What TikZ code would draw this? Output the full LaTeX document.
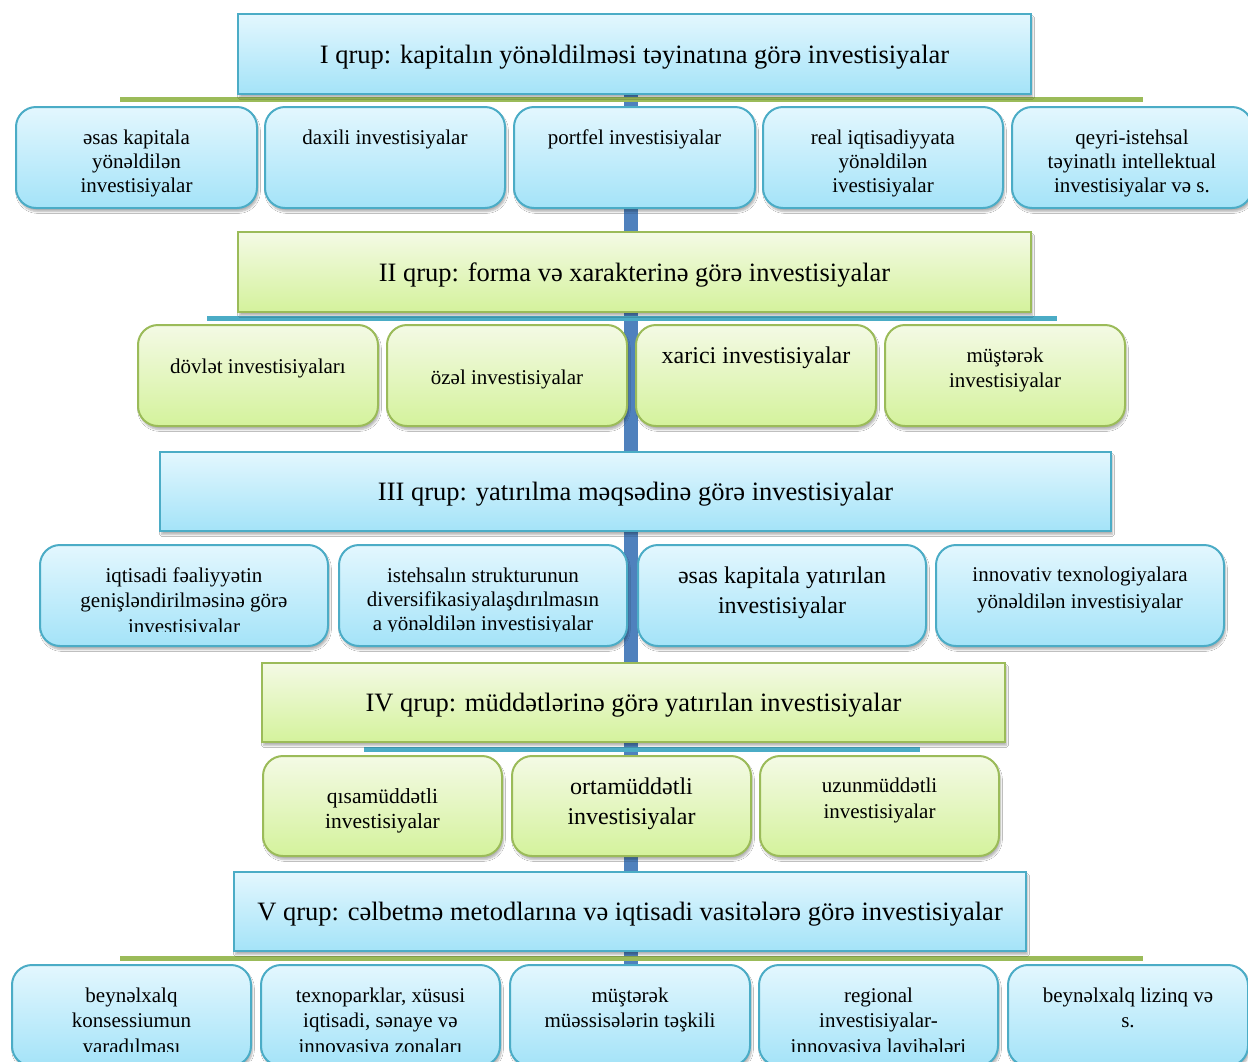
\documentclass[tikz,border=0pt]{standalone}
\usepackage{fontspec}
\setmainfont{Liberation Serif}
\usetikzlibrary{shadows,shadows.blur}

\definecolor{spineblue}{HTML}{4F81BD}
\definecolor{barblue}{HTML}{4BACC6}
\definecolor{bargreen}{HTML}{9BBB59}
\definecolor{bluetop}{HTML}{E3F7FE}
\definecolor{bluebot}{HTML}{A4E3F8}
\definecolor{greentop}{HTML}{F4FAE5}
\definecolor{greenbot}{HTML}{D4F29C}
\definecolor{blueedge}{HTML}{4BACC6}
\definecolor{greenedge}{HTML}{9BBB59}

\tikzset{
  boxbase/.style={draw, inner sep=0pt,
    blur shadow={shadow xshift=1.5pt, shadow yshift=-3.5pt, shadow blur steps=6, shadow opacity=30}},
  headbase/.style={boxbase, line width=1.5pt, text depth=0pt, font=\fontsize{26.5}{30}\selectfont},
  bluehead/.style={headbase, draw=blueedge, top color=bluetop, bottom color=bluebot},
  greenhead/.style={headbase, draw=greenedge, top color=greentop, bottom color=greenbot},
  bluecell/.style={boxbase, line width=2pt, draw=blueedge, top color=bluetop, bottom color=bluebot,
    rounded corners=20pt, minimum height=101pt},
  greencell/.style={boxbase, line width=2pt, draw=greenedge, top color=greentop, bottom color=greenbot,
    rounded corners=20pt, minimum height=101pt},
  % anchored at the baseline of the last line
  celltext/.style={inner sep=0pt, align=center, anchor=base, yshift=-2pt},
  spine/.style={draw=spineblue, line width=14pt},
  greenbar/.style={draw=bargreen, line width=5pt},
  bluebar/.style={draw=barblue, line width=5pt},
}

\newcommand\fs[2]{\fontsize{#1}{#2}\selectfont}

\begin{document}
\begin{tikzpicture}[x=1pt,y=-1pt]
\clip (0,0) rectangle (1248,1061);
\fill[white] (0,0) rectangle (1248,1061);

% vertical spine and horizontal bars
\coordinate (sp-top) at (631,95);
\coordinate (sp-bot) at (631,965);
\coordinate (b1-l) at (120,99.5);  \coordinate (b1-r) at (1143,99.5);
\coordinate (b2-l) at (207,318.5); \coordinate (b2-r) at (1057,318.5);
\coordinate (b4-l) at (364,749.5); \coordinate (b4-r) at (920,749.5);
\coordinate (b5-l) at (120,958.5); \coordinate (b5-r) at (1143,958.5);
\draw[spine] (sp-top) -- (sp-bot);
\draw[greenbar] (b1-l) -- (b1-r);
\draw[bluebar] (b2-l) -- (b2-r);
\draw[bluebar] (b4-l) -- (b4-r);
\draw[greenbar] (b5-l) -- (b5-r);

% group I
\node[bluehead, minimum width=793pt, minimum height=80pt] (h1) at (634.5,54)
  {I qrup: kapitalın yönəldilməsi təyinatına görə investisiyalar};
\node[bluecell, minimum width=241pt] (r1a) at (136.5,157.5) {};
\node[bluecell, minimum width=240pt] (r1b) at (385,157.5) {};
\node[bluecell, minimum width=241pt] (r1c) at (634.5,157.5) {};
\node[bluecell, minimum width=240pt] (r1d) at (883,157.5) {};
\node[bluecell, minimum width=240pt] (r1e) at (1132,157.5) {};
\node[celltext, font=\fs{21}{24}] (t1a) at (136.5,190) {əsas kapitala\\yönəldilən\\investisiyalar};
\node[celltext, font=\fs{21}{24}] (t1b) at (385,142) {daxili investisiyalar};
\node[celltext, font=\fs{21}{24}] (t1c) at (634.5,142) {portfel investisiyalar};
\node[celltext, font=\fs{21}{24}] (t1d) at (883,190) {real iqtisadiyyata\\yönəldilən\\ivestisiyalar};
\node[celltext, font=\fs{21}{24}] (t1e) at (1132,190) {qeyri-istehsal\\təyinatlı intellektual\\investisiyalar və s.};

% group II
\node[greenhead, minimum width=793pt, minimum height=80pt] (h2) at (634.5,272)
  {II qrup: forma və xarakterinə görə investisiyalar};
\node[greencell, minimum width=240pt] (r2a) at (258,375.5) {};
\node[greencell, minimum width=240pt] (r2b) at (507,375.5) {};
\node[greencell, minimum width=240pt] (r2c) at (756,375.5) {};
\node[greencell, minimum width=240pt] (r2d) at (1005,375.5) {};
\node[celltext, font=\fs{21}{24}] (t2a) at (258,371) {dövlət investisiyaları};
\node[celltext, font=\fs{21}{24}] (t2b) at (507,382) {özəl investisiyalar};
\node[celltext, font=\fs{24}{28}] (t2c) at (756,361.5) {xarici investisiyalar};
\node[celltext, font=\fs{21}{25}] (t2d) at (1005,385) {müştərək\\investisiyalar};

% group III
\node[bluehead, minimum width=951pt, minimum height=79pt] (h3) at (635.5,491.5)
  {III qrup: yatırılma məqsədinə görə investisiyalar};
\node[bluecell, minimum width=288pt] (r3a) at (184,595.5) {};
\node[bluecell, minimum width=288pt] (r3b) at (483,595.5) {};
\node[bluecell, minimum width=288pt] (r3c) at (782,595.5) {};
\node[bluecell, minimum width=288pt] (r3d) at (1080,595.5) {};
\begin{scope}
  \clip (r3a.north west) rectangle (r3a.east |- 0,631);
  \node[celltext, font=\fs{21}{25.5}] (t3a) at (184,631) {iqtisadi fəaliyyətin\\genişləndirilməsinə görə\\investisiyalar};
\end{scope}
\begin{scope}
  \clip (r3b.north west) rectangle (r3b.east |- 0,631);
  \node[celltext, font=\fs{21}{24}] (t3b) at (483,628) {istehsalın strukturunun\\diversifikasiyalaşdırılmasın\\a yönəldilən investisiyalar};
\end{scope}
\node[celltext, font=\fs{24}{30}] (t3c) at (782,611.5) {əsas kapitala yatırılan\\investisiyalar};
\node[celltext, font=\fs{21}{27}] (t3d) at (1080,606) {innovativ texnologiyalara\\yönəldilən investisiyalar};

% group IV
\node[greenhead, minimum width=743pt, minimum height=79pt] (h4) at (633.5,702.5)
  {IV qrup: müddətlərinə görə yatırılan investisiyalar};
\node[greencell, minimum width=239pt, minimum height=100pt] (r4a) at (382.5,806) {};
\node[greencell, minimum width=239pt, minimum height=100pt] (r4b) at (631.5,806) {};
\node[greencell, minimum width=239pt, minimum height=100pt] (r4c) at (879.5,806) {};
\node[celltext, font=\fs{21.5}{25}] (t4a) at (382.5,826) {qısamüddətli\\investisiyalar};
\node[celltext, font=\fs{24}{30}] (t4b) at (631.5,822.5) {ortamüddətli\\investisiyalar};
\node[celltext, font=\fs{21}{26}] (t4c) at (879.5,816) {uzunmüddətli\\investisiyalar};

% group V
\node[bluehead, minimum width=792pt, minimum height=79pt] (h5) at (630,911.5)
  {V qrup: cəlbetmə metodlarına və iqtisadi vasitələrə görə investisiyalar};
\node[bluecell, minimum width=239pt] (r5a) at (131.5,1015.5) {};
\node[bluecell, minimum width=239pt] (r5b) at (380.5,1015.5) {};
\node[bluecell, minimum width=240pt] (r5c) at (630,1015.5) {};
\node[bluecell, minimum width=239pt] (r5d) at (878.5,1015.5) {};
\node[bluecell, minimum width=240pt] (r5e) at (1128,1015.5) {};
\begin{scope}
  \clip (r5a.north west) rectangle (r5a.east |- 0,1051);
  \node[celltext, font=\fs{21}{25.5}] (t5a) at (131.5,1051) {beynəlxalq\\konsessiumun\\yaradılması};
\end{scope}
\begin{scope}
  \clip (r5b.north west) rectangle (r5b.east |- 0,1051);
  \node[celltext, font=\fs{21}{25.5}] (t5b) at (380.5,1051) {texnoparklar, xüsusi\\iqtisadi, sənaye və\\innovasiya zonaları};
\end{scope}
\node[celltext, font=\fs{21}{25.5}] (t5c) at (630,1025.5) {müştərək\\müəssisələrin təşkili};
\begin{scope}
  \clip (r5d.north west) rectangle (r5d.east |- 0,1051);
  \node[celltext, font=\fs{21}{25.5}] (t5d) at (878.5,1051) {regional\\investisiyalar-\\innovasiya layihələri};
\end{scope}
\node[celltext, font=\fs{21}{25.5}] (t5e) at (1128,1025.5) {beynəlxalq lizinq və\\s.};
\end{tikzpicture}
\end{document}
